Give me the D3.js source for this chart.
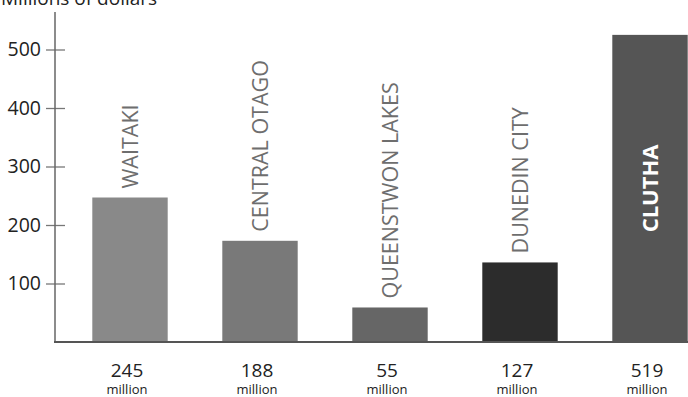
<!DOCTYPE html>
<html>
  <head>
    <script src="https://d3js.org/d3.v7.min.js"></script>
    <style>
      body { margin: 0; background: #fff; }
      text { font-family: "Open Sans", sans-serif; }
    </style>
  </head>
  <body>
    <script>

    // districts, bar heights as drawn, and the printed amounts (millions of dollars)
    var districts = ["WAITAKI", "CENTRAL OTAGO", "QUEENSTWON LAKES", "DUNEDIN CITY", "CLUTHA"];
    var barHeights = [247, 173, 59, 136, 525];
    var amounts = ["245", "188", "55", "127", "519"];
    var barColors = ["#898989", "#797979", "#666666", "#2c2c2c", "#555555"];
    var yTicks = [100, 200, 300, 400, 500];

    var w = 688;
    var h = 397;

    var svg = d3.select("body")
      .append("svg")
      .attr("width", w)
      .attr("height", h);

    var xScale = d3.scaleBand()
      .domain(districts)
      .range([65, 715])
      .paddingInner(0.42)
      .paddingOuter(0.21);

    var yScale = d3.scaleLinear()
      .domain([0, 500])
      .range([342, 49.5]);

    // title, mostly cut off by the top edge
    svg.append("text")
      .attr("x", 1)
      .attr("y", 5)
      .attr("font-size", "19px")
      .attr("fill", "#222")
      .text("Millions of dollars");

    // bars
    svg.selectAll("rect.bar")
      .data(districts)
      .enter()
      .append("rect")
      .attr("class", "bar")
      .attr("x", function(d) { return xScale(d); })
      .attr("width", xScale.bandwidth())
      .attr("y", function(d, i) { return yScale(barHeights[i]); })
      .attr("height", function(d, i) { return yScale(0) - yScale(barHeights[i]); })
      .attr("fill", function(d, i) { return barColors[i]; });

    // rotated names above bars (last one sits inside its bar)
    svg.selectAll("text.name")
      .data(districts)
      .enter()
      .append("text")
      .attr("class", "name")
      .attr("transform", function(d, i) {
        var cx = xScale(d) + xScale.bandwidth() / 2;
        var cy = i == 4 ? yScale(barHeights[i] / 2) : yScale(barHeights[i]) - 9;
        return "translate(" + cx + "," + cy + ") rotate(-90)";
      })
      .attr("dy", "0.36em")
      .attr("text-anchor", function(d, i) { return i == 4 ? "middle" : "start"; })
      .attr("font-size", function(d, i) { return i == 4 ? "22px" : "21.5px"; })
      .attr("font-weight", function(d, i) { return i == 4 ? 700 : 400; })
      .attr("fill", function(d, i) { return i == 4 ? "#fff" : "#6e6e6e"; })
      .text(function(d) { return d; });

    // y axis
    var yAxis = d3.axisLeft(yScale)
      .tickValues(yTicks)
      .tickSize(9)
      .tickPadding(5);

    var gy = svg.append("g")
      .attr("transform", "translate(55,0)")
      .call(yAxis);
    gy.select(".domain").remove();
    gy.selectAll(".tick line")
      .attr("x1", 10)
      .attr("stroke", "#777")
      .attr("stroke-width", 1.3);
    gy.selectAll(".tick text")
      .attr("font-size", "19.5px")
      .attr("font-family", "'Open Sans', sans-serif")
      .attr("fill", "#222");

    svg.append("line")
      .attr("x1", 55).attr("x2", 55)
      .attr("y1", 12).attr("y2", yScale(0))
      .attr("stroke", "#666")
      .attr("stroke-width", 1.5);

    // baseline
    svg.append("line")
      .attr("x1", 54).attr("x2", w)
      .attr("y1", yScale(0)).attr("y2", yScale(0))
      .attr("stroke", "#555")
      .attr("stroke-width", 2);

    // amounts under the bars
    svg.selectAll("text.amount")
      .data(amounts)
      .enter()
      .append("text")
      .attr("class", "amount")
      .attr("x", function(d, i) { return xScale(districts[i]) + xScale.bandwidth() / 2 - 3; })
      .attr("y", 377)
      .attr("text-anchor", "middle")
      .attr("font-size", "19px")
      .attr("fill", "#222")
      .text(function(d) { return d; });

    svg.selectAll("text.unit")
      .data(amounts)
      .enter()
      .append("text")
      .attr("class", "unit")
      .attr("x", function(d, i) { return xScale(districts[i]) + xScale.bandwidth() / 2 - 3; })
      .attr("y", 394)
      .attr("text-anchor", "middle")
      .attr("font-size", "13px")
      .attr("fill", "#222")
      .text("million");

    </script>
  </body>
</html>
